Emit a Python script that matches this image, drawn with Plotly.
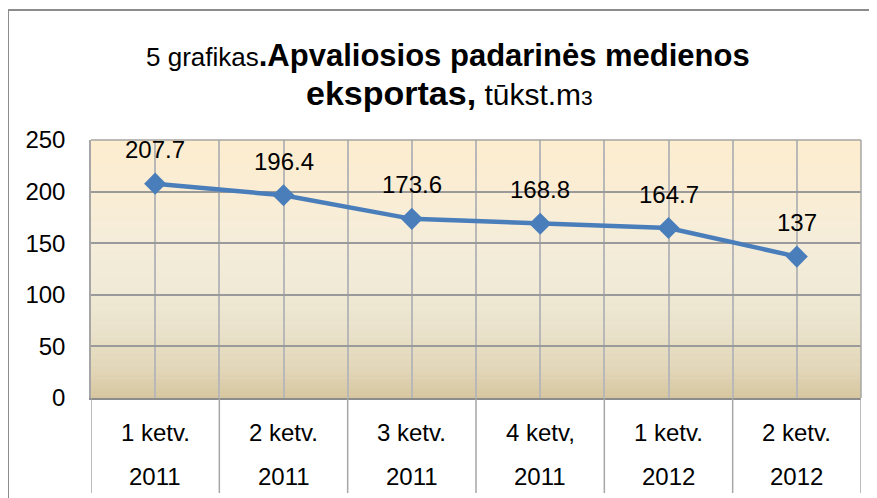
import plotly.graph_objects as go

# ---- data ----
quarters = ["1 ketv.", "2 ketv.", "3 ketv.", "4 ketv,", "1 ketv.", "2 ketv."]
years = ["2011", "2011", "2011", "2011", "2012", "2012"]
values = [207.7, 196.4, 173.6, 168.8, 164.7, 137]
value_labels = ["207.7", "196.4", "173.6", "168.8", "164.7", "137"]
y_ticks = [0, 50, 100, 150, 200, 250]

# ---- layout geometry ----
# the page places the figure 8px in from the top-left corner, so the figure
# is drawn 8px smaller and every reference pixel is shifted by that offset
OFF = 8
W, H = 877 - OFF, 498 - OFF
L, T = 91 - OFF, 140 - OFF
R = W - (861 - OFF)
B = H - (398 - OFF)
pw, ph = W - L - R, H - T - B


def px_x(px):  # reference pixel x -> paper
    return (px - OFF - L) / pw


def px_y(py):  # reference pixel y -> paper
    return (H - B - (py - OFF)) / ph


FONT = "Liberation Sans, Arial, sans-serif"
idx = list(range(len(values)))

fig = go.Figure()
fig.add_trace(go.Scatter(
    x=idx, y=values, mode="lines+markers",
    line=dict(color="#4A7EBB", width=4.5),
    marker=dict(symbol="diamond", size=17, color="#4A7EBB"),
    hoverinfo="skip", showlegend=False,
))

shapes = []
# gradient plot background
stops = [
    (0.0, (214, 198, 158)),
    (0.1, (225, 213, 182)),
    (0.25, (233, 225, 200)),
    (0.4, (239, 233, 213)),
    (0.6, (245, 237, 218)),
    (0.8, (250, 237, 212)),
    (1.0, (253, 237, 207)),
]


def col_at(f):
    for (f0, c0), (f1, c1) in zip(stops[:-1], stops[1:]):
        if f0 <= f <= f1:
            t = (f - f0) / (f1 - f0)
            return "rgb(%d,%d,%d)" % tuple(round(a + (b - a) * t) for a, b in zip(c0, c1))
    return "rgb(%d,%d,%d)" % stops[-1][1]


N = 80
for i in range(N):
    y0, y1 = i / N, (i + 1) / N
    shapes.append(dict(type="rect", xref="paper", yref="paper", x0=0, x1=1,
                       y0=y0, y1=y1 + 0.002, fillcolor=col_at((y0 + y1) / 2),
                       line=dict(width=0), layer="below"))

# category dividers below plot
for i in range(len(values) + 1):
    shapes.append(dict(type="line", xref="x", yref="paper", x0=i - 0.5, x1=i - 0.5,
                       y0=0, y1=px_y(493), line=dict(color="#A6A6A6", width=1.5)))
# plot border top and right
shapes.append(dict(type="line", xref="paper", yref="paper", x0=0, x1=1, y0=1, y1=1,
                   line=dict(color="#A6A6A6", width=1.5)))
shapes.append(dict(type="line", xref="paper", yref="paper", x0=1, x1=1, y0=0, y1=1,
                   line=dict(color="#A6A6A6", width=1.5)))
# outer chart border (left and top)
shapes.append(dict(type="line", xref="paper", yref="paper", x0=px_x(8), x1=px_x(8),
                   y0=px_y(10), y1=px_y(510), line=dict(color="#8C8C8C", width=2)))
shapes.append(dict(type="line", xref="paper", yref="paper", x0=px_x(8), x1=px_x(890),
                   y0=px_y(10), y1=px_y(10), line=dict(color="#8C8C8C", width=2)))

annotations = []
# data labels
for i, (v, lab) in enumerate(zip(values, value_labels)):
    annotations.append(dict(x=i, y=v, xref="x", yref="y", text=lab, showarrow=False,
                            yshift=34, yanchor="middle",
                            font=dict(family=FONT, size=24, color="#000000")))
# category labels
for i, (q, yr) in enumerate(zip(quarters, years)):
    annotations.append(dict(x=i, y=px_y(432), xref="x", yref="paper", text=q,
                            showarrow=False, yanchor="middle",
                            font=dict(family=FONT, size=24, color="#000000")))
    annotations.append(dict(x=i, y=px_y(476), xref="x", yref="paper", text=yr,
                            showarrow=False, yanchor="middle",
                            font=dict(family=FONT, size=24, color="#000000")))
# title
annotations.append(dict(
    x=px_x(448), y=px_y(55), xref="paper", yref="paper", showarrow=False,
    xanchor="center", yanchor="middle",
    text="<span style='font-size:26px'>5 grafikas</span><b>.Apvaliosios padarinės medienos</b>",
    font=dict(family=FONT, size=31, color="#000000")))
annotations.append(dict(
    x=px_x(449), y=px_y(93), xref="paper", yref="paper", showarrow=False,
    xanchor="center", yanchor="middle",
    text="<b>eksportas,</b><span style='font-size:30px'> tūkst.m</span>"
         "<span style='font-size:21px'>3</span>",
    font=dict(family=FONT, size=34, color="#000000")))

fig.update_layout(
    width=W, height=H,
    margin=dict(l=L, r=R, t=T, b=B, pad=0),
    paper_bgcolor="#FFFFFF", plot_bgcolor="rgba(0,0,0,0)",
    shapes=shapes, annotations=annotations,
    xaxis=dict(range=[-0.5, len(values) - 0.5], tickmode="linear", tick0=-0.5, dtick=0.5,
               showticklabels=False, showgrid=True, gridcolor="#B8B8B8", gridwidth=1.5,
               zeroline=False, showline=True, linecolor="#8C8C8C", linewidth=2,
               fixedrange=True),
    yaxis=dict(range=[0, 250], tickvals=y_ticks, ticktext=[str(t) for t in y_ticks],
               showgrid=True, gridcolor="#9A9A9A", gridwidth=1.5, zeroline=False,
               showline=True, linecolor="#A6A6A6", linewidth=1.5,
               ticks="outside", ticklen=19, tickcolor="rgba(0,0,0,0)",
               tickfont=dict(family=FONT, size=24, color="#000000"), fixedrange=True),
    showlegend=False,
)

fig.write_html("out.html")
